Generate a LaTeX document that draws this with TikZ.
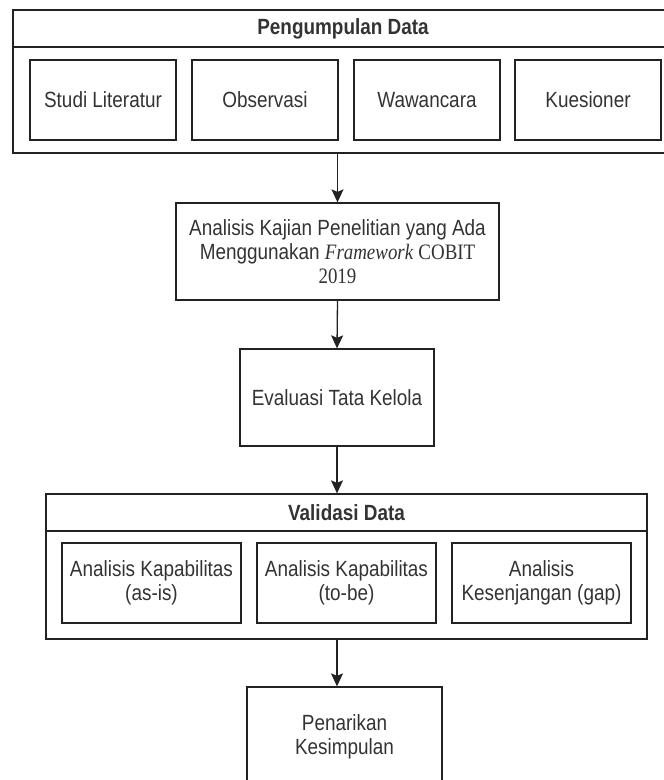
\documentclass[tikz,border=0pt]{standalone}
\usepackage{fontspec}
\setmainfont[FakeStretch=0.86]{Liberation Sans}
\newfontfamily\timesfont[FakeStretch=0.86]{Liberation Serif}
\usetikzlibrary{arrows.meta}
\definecolor{linegray}{HTML}{222222}
\definecolor{txtgray}{HTML}{333333}
\begin{document}
\begin{tikzpicture}[x=1pt, y=-1pt,
  box/.style={draw=linegray, line width=1.3pt, text=txtgray, align=center,
    inner sep=0pt, font=\fontsize{22}{24}\selectfont},
  head/.style={box, font=\fontsize{22}{24}\selectfont\bfseries},
  arr/.style={draw=linegray, line width=1.3pt,
    -{Stealth[length=13pt, width=12pt, inset=2.5pt]}}]
  \useasboundingbox (0,0) rectangle (664,780);
  % pengumpulan data
  \node[head, minimum width=660pt, minimum height=37pt] (kumpulhead) at (343,28.5) {Pengumpulan Data};
  \node[box, minimum width=660pt, minimum height=106pt] (kumpul) at (343,100) {};
  \node[box, minimum width=146pt, minimum height=80pt] (studi) at (103,100) {Studi Literatur};
  \node[box, minimum width=146pt, minimum height=80pt] (obs) at (265,100) {Observasi};
  \node[box, minimum width=146pt, minimum height=80pt] (wawan) at (427,100) {Wawancara};
  \node[box, minimum width=146pt, minimum height=80pt] (kues) at (588,100) {Kuesioner};
  % analisis dan evaluasi
  \node[box, minimum width=323pt, minimum height=97pt] (kajian) at (337.5,251.5)
    {Analisis Kajian Penelitian yang Ada\\Menggunakan {\timesfont\itshape Framework} {\timesfont COBIT}\\{\timesfont 2019}};
  \node[box, minimum width=194pt, minimum height=97pt] (eval) at (337,397.5) {Evaluasi Tata Kelola};
  % validasi data
  \node[head, minimum width=601pt, minimum height=37pt] (validhead) at (346.5,512.5) {Validasi Data};
  \node[box, minimum width=601pt, minimum height=108pt] (valid) at (346.5,585) {};
  \node[box, minimum width=179pt, minimum height=80pt] (asis) at (151.5,583) {Analisis Kapabilitas\\(as-is)};
  \node[box, minimum width=179pt, minimum height=80pt] (tobe) at (346.5,583) {Analisis Kapabilitas\\(to-be)};
  \node[box, minimum width=179pt, minimum height=80pt] (gap) at (541.5,583) {Analisis\\Kesenjangan (gap)};
  % kesimpulan
  \node[box, minimum width=195pt, minimum height=100pt] (tarik) at (344.5,737) {Penarikan\\Kesimpulan};
  % panah
  \draw[arr] (kajian.north |- kumpul.south) -- (kajian.north);
  \draw[arr] (kajian.south) -- (eval.north);
  \draw[arr] (eval.south) -- (eval.south |- validhead.north);
  \draw[arr] (eval.south |- valid.south) -- (eval.south |- tarik.north);
\end{tikzpicture}
\end{document}
